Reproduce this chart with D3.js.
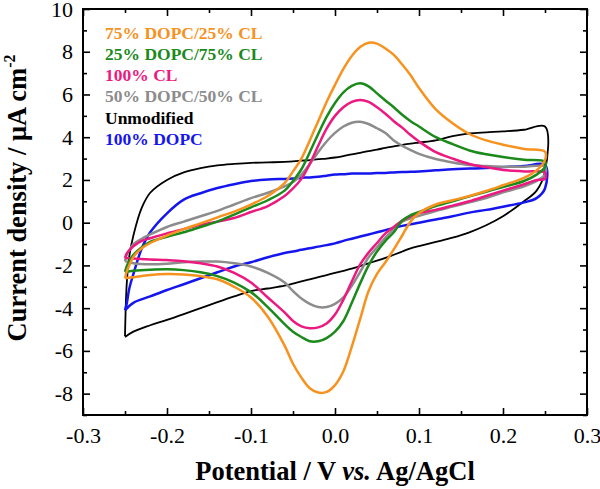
<!DOCTYPE html>
<html><head><meta charset="utf-8">
<script src="https://cdn.jsdelivr.net/npm/d3@7"></script>
<style>body{margin:0;background:#fff} svg{display:block}</style>
</head><body>
<svg id="chart" width="600" height="489"></svg>
<script>
// Potential grids (V vs Ag/AgCl)
const fwdPotential = [-0.25,-0.248,-0.245,-0.24,-0.23,-0.22,-0.2,-0.18,-0.16,-0.14,-0.12,-0.1,-0.08,-0.06,-0.05,-0.04,-0.03,-0.02,-0.01,0,0.01,0.02,0.03,0.04,0.05,0.06,0.07,0.08,0.09,0.1,0.12,0.14,0.16,0.18,0.2,0.225,0.25];
const revPotential = [0.25,0.24,0.225,0.2,0.18,0.16,0.14,0.12,0.1,0.09,0.08,0.07,0.06,0.05,0.04,0.03,0.02,0.01,0,-0.01,-0.02,-0.03,-0.04,-0.05,-0.06,-0.08,-0.1,-0.12,-0.14,-0.16,-0.18,-0.2,-0.22,-0.24,-0.25];

// Current densities (µA cm^-2)
const dopc75Fwd = [-2.6,-2.3,-2.0,-1.6,-1.2,-0.95,-0.6,-0.3,-0.03,0.25,0.52,0.85,1.25,1.85,2.4,3.0,3.85,4.75,5.65,6.45,7.2,7.8,8.22,8.42,8.38,8.15,7.85,7.4,6.9,6.3,5.3,4.65,4.15,3.85,3.65,3.45,3.32];
const dopc75Rev = [2.93,2.45,2.1,1.75,1.48,1.25,1.05,0.85,0.45,0.05,-0.6,-1.25,-1.85,-2.4,-3.2,-4.5,-5.8,-6.95,-7.6,-7.92,-7.95,-7.75,-7.25,-6.6,-5.75,-4.4,-3.5,-3.0,-2.65,-2.5,-2.42,-2.4,-2.45,-2.55,-2.6];

const dopc25Fwd = [-2.3,-2.05,-1.8,-1.5,-1.15,-0.9,-0.66,-0.45,-0.2,0.05,0.38,0.72,1.05,1.5,1.95,2.5,3.3,4.15,4.95,5.6,6.1,6.4,6.52,6.38,6.05,5.72,5.4,5.05,4.75,4.5,4.0,3.68,3.38,3.2,3.07,2.95,2.86];
const dopc25Rev = [2.6,2.25,1.95,1.67,1.45,1.23,1.0,0.78,0.5,0.35,0.1,-0.45,-0.85,-1.35,-2.0,-2.84,-3.75,-4.6,-5.1,-5.4,-5.55,-5.55,-5.35,-5.1,-4.75,-3.95,-3.25,-2.8,-2.5,-2.32,-2.22,-2.18,-2.2,-2.25,-2.3];

const cl100Fwd = [-1.65,-1.45,-1.3,-1.1,-0.85,-0.73,-0.5,-0.3,-0.1,0.05,0.22,0.5,0.78,1.25,1.6,2.05,2.75,3.6,4.4,5.0,5.4,5.65,5.74,5.65,5.4,5.1,4.75,4.45,4.1,3.8,3.3,3.0,2.75,2.6,2.47,2.4,2.35];
const cl100Rev = [2.05,2.0,1.8,1.5,1.25,1.0,0.8,0.6,0.45,0.3,0.1,-0.2,-0.5,-0.95,-1.4,-1.95,-2.75,-3.6,-4.3,-4.72,-4.9,-4.94,-4.85,-4.6,-4.2,-3.5,-2.8,-2.35,-2.05,-1.9,-1.8,-1.75,-1.72,-1.68,-1.65];

const dopc50Fwd = [-1.8,-1.5,-1.3,-1.0,-0.75,-0.55,-0.2,0.05,0.3,0.55,0.85,1.15,1.4,1.7,1.9,2.25,2.75,3.3,3.8,4.2,4.5,4.68,4.72,4.62,4.42,4.2,3.85,3.6,3.4,3.22,2.98,2.82,2.7,2.65,2.62,2.62,2.62];
const dopc50Rev = [2.25,1.95,1.7,1.42,1.15,0.95,0.75,0.55,0.32,0.2,0.05,-0.3,-0.7,-1.15,-1.62,-2.3,-2.95,-3.5,-3.8,-3.95,-3.95,-3.8,-3.55,-3.2,-2.8,-2.35,-2.05,-1.9,-1.82,-1.82,-1.85,-1.92,-1.95,-1.9,-1.8];

const unmodFwd = [-5.3,-2.9,-1.6,-0.6,0.7,1.4,2.0,2.35,2.55,2.68,2.75,2.8,2.82,2.85,2.87,2.9,2.93,2.97,3.0,3.05,3.12,3.2,3.27,3.35,3.42,3.5,3.57,3.64,3.7,3.75,3.85,4.05,4.18,4.23,4.27,4.35,4.5];
const unmodRev = [2.4,1.5,1.0,0.3,-0.12,-0.45,-0.7,-0.9,-1.1,-1.2,-1.35,-1.5,-1.65,-1.78,-1.9,-2.03,-2.15,-2.25,-2.35,-2.45,-2.55,-2.65,-2.75,-2.85,-2.95,-3.08,-3.2,-3.45,-3.72,-4.0,-4.28,-4.55,-4.8,-5.1,-5.35];

const dopc100Fwd = [-4.1,-3.8,-3.1,-2.4,-1.2,-0.45,0.44,1.08,1.38,1.62,1.8,1.95,2.02,2.05,2.07,2.1,2.12,2.15,2.2,2.25,2.27,2.3,2.3,2.3,2.32,2.33,2.35,2.37,2.38,2.4,2.45,2.5,2.53,2.56,2.6,2.65,2.7];
const dopc100Rev = [1.6,1.15,0.95,0.75,0.6,0.47,0.3,0.15,0.0,-0.07,-0.15,-0.25,-0.35,-0.45,-0.55,-0.65,-0.75,-0.85,-0.97,-1.05,-1.12,-1.2,-1.27,-1.35,-1.42,-1.62,-1.85,-2.05,-2.32,-2.6,-2.88,-3.15,-3.45,-3.75,-4.1];

const seriesNames = ["75% DOPC/25% CL","25% DOPC/75% CL","100% CL","50% DOPC/50% CL","Unmodified","100% DOPC"];
const seriesColors = ["#f7921e","#1b8a1b","#ec1a80","#8c8c8c","#000000","#1515ee"];
const seriesFwd = [dopc75Fwd,dopc25Fwd,cl100Fwd,dopc50Fwd,unmodFwd,dopc100Fwd];
const seriesRev = [dopc75Rev,dopc25Rev,cl100Rev,dopc50Rev,unmodRev,dopc100Rev];

const xTicks = [-0.3,-0.2,-0.1,0.0,0.1,0.2,0.3];
const xMinorTicks = [-0.25,-0.15,-0.05,0.05,0.15,0.25];
const yTicks = [-8,-6,-4,-2,0,2,4,6,8,10];
const yMinorTicks = [-9,-7,-5,-3,-1,1,3,5,7,9];

const svg = d3.select("#chart");
const L = 83, R = 587, T = 9, B = 415;
const x = d3.scaleLinear().domain([-0.3,0.3]).range([L,R]);
const y = d3.scaleLinear().domain([-9,10]).range([B,T]);
const serif = "'Liberation Serif','Times New Roman',serif";

// curves
const line = d3.line().x(d=>x(d[0])).y(d=>y(d[1])).curve(d3.curveCatmullRom.alpha(0.5));
const drawOrder = [4,5,3,2,1,0];
const plot = svg.append("g");
drawOrder.forEach(i=>{
  const pts = fwdPotential.map((v,k)=>[v,seriesFwd[i][k]])
    .concat(revPotential.map((v,k)=>[v,seriesRev[i][k]]));
  plot.append("path").attr("d", line(pts)).attr("fill","none")
    .attr("stroke", seriesColors[i]).attr("stroke-width", i===4?1.8:2.5)
    .attr("stroke-linejoin","round");
});

// axes
function styleAxis(g){ g.select(".domain").remove(); g.selectAll("line").attr("stroke","#000").attr("stroke-width",1.6); g.selectAll("text").attr("font-family",serif).attr("font-size",22).attr("fill","#000"); }
svg.append("g").attr("transform",`translate(0,${B})`)
  .call(d3.axisBottom(x).tickValues(xTicks).tickSize(-7).tickPadding(12).tickFormat(d=>d.toFixed(1))).call(styleAxis);
svg.append("g").attr("transform",`translate(0,${B})`)
  .call(d3.axisBottom(x).tickValues(xMinorTicks).tickSize(-4).tickFormat("")).call(styleAxis);
svg.append("g").attr("transform",`translate(0,${T})`)
  .call(d3.axisTop(x).tickValues(xTicks).tickSize(-7).tickFormat("")).call(styleAxis);
svg.append("g").attr("transform",`translate(0,${T})`)
  .call(d3.axisTop(x).tickValues(xMinorTicks).tickSize(-4).tickFormat("")).call(styleAxis);
svg.append("g").attr("transform",`translate(${L},0)`)
  .call(d3.axisLeft(y).tickValues(yTicks).tickSize(-7).tickPadding(10).tickFormat(d=>String(d))).call(styleAxis);
svg.append("g").attr("transform",`translate(${L},0)`)
  .call(d3.axisLeft(y).tickValues(yMinorTicks).tickSize(-4).tickFormat("")).call(styleAxis);
svg.append("g").attr("transform",`translate(${R},0)`)
  .call(d3.axisRight(y).tickValues(yTicks).tickSize(-7).tickFormat("")).call(styleAxis);
svg.append("g").attr("transform",`translate(${R},0)`)
  .call(d3.axisRight(y).tickValues(yMinorTicks).tickSize(-4).tickFormat("")).call(styleAxis);

svg.append("rect").attr("x",L).attr("y",T).attr("width",R-L).attr("height",B-T)
  .attr("fill","none").attr("stroke","#000").attr("stroke-width",2);

// axis titles
const xt = svg.append("text").attr("x",(L+R)/2).attr("y",480).attr("text-anchor","middle")
  .attr("font-family",serif).attr("font-size",26.5).attr("font-weight","bold");
xt.append("tspan").text("Potential / V ");
xt.append("tspan").attr("font-style","italic").text("vs.");
xt.append("tspan").text(" Ag/AgCl");

const yt = svg.append("text").attr("transform","translate(26,198) rotate(-90)").attr("text-anchor","middle")
  .attr("font-family",serif).attr("font-size",26.5).attr("font-weight","bold");
yt.append("tspan").text("Current density / \u03bcA cm");
yt.append("tspan").attr("font-size",16).attr("dy",-11).text("-2");

// legend
seriesNames.forEach((n,i)=>{
  svg.append("text").attr("x",105).attr("y",38.5+i*21.3)
    .attr("font-family",serif).attr("font-size",17.5).attr("font-weight","bold")
    .attr("fill",seriesColors[i]).text(n);
});
</script>
</body></html>
